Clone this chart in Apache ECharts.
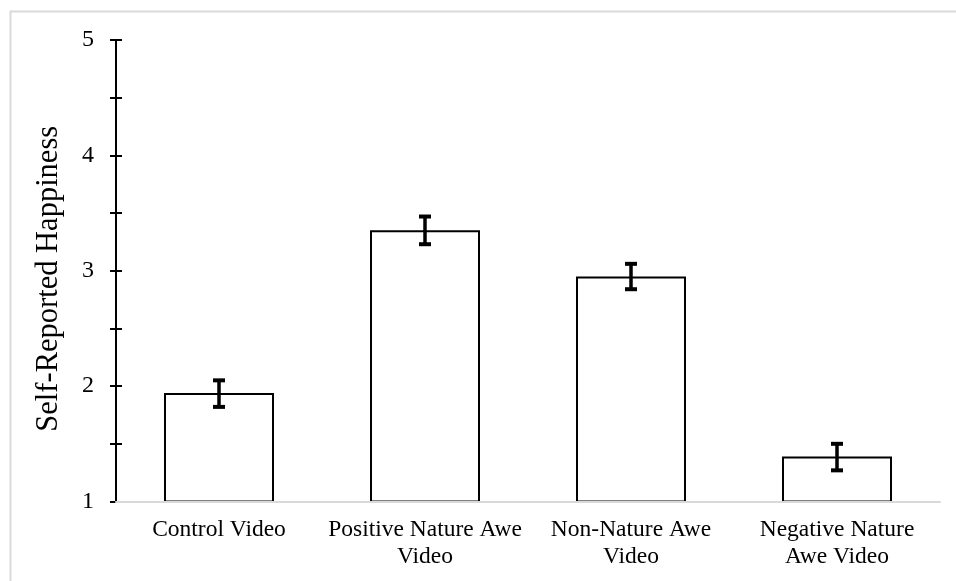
<!DOCTYPE html>
<html>
<head>
<meta charset="utf-8">
<script src="https://cdn.jsdelivr.net/npm/echarts@6/dist/echarts.min.js"></script>
<style>html,body{margin:0;padding:0;background:#fff;}#c{width:956px;height:581px;}</style>
</head>
<body>
<div id="c"></div>
<script>
const categories = ['Control Video', 'Positive Nature Awe Video', 'Non-Nature Awe Video', 'Negative Nature Awe Video'];
const categoryLabels = ['Control Video', 'Positive Nature Awe\nVideo', 'Non-Nature Awe\nVideo', 'Negative Nature\nAwe Video'];
const means = [1.94, 3.35, 2.95, 1.39];
const errLow = [1.82, 3.23, 2.84, 1.27];
const errHigh = [2.05, 3.47, 3.06, 1.50];
const yTicks = [1, 2, 3, 4, 5];
const yName = 'Self-Reported Happiness';

const serif = '"Liberation Serif", "Times New Roman", serif';
const chart = echarts.init(document.getElementById('c'));
chart.setOption({
  animation: false,
  backgroundColor: '#fff',
  graphic: [{
    type: 'rect', left: 8, top: 9, z: 0,
    shape: { width: 1000, height: 700 },
    style: { fill: 'none', stroke: '#d9d9d9', lineWidth: 2 }
  }],
  grid: { left: 116, right: 16, top: 40, bottom: 79.5 },
  xAxis: {
    type: 'category',
    data: categories,
    axisLine: { lineStyle: { color: '#d9d9d9', width: 2 } },
    axisTick: { show: false },
    axisLabel: {
      interval: 0, margin: 15, color: '#000',
      fontFamily: serif, fontSize: 23.5, lineHeight: 27,
      formatter: (v, i) => categoryLabels[i]
    },
    z: 3
  },
  yAxis: [{
    type: 'value', min: yTicks[0], max: yTicks[yTicks.length - 1], interval: 0.5,
    name: yName, nameLocation: 'middle', nameGap: 52,
    nameTextStyle: { fontFamily: serif, fontSize: 30.5, color: '#000', padding: [0, 16, 0, 0] },
    axisLine: { show: true, lineStyle: { color: '#000', width: 2 } },
    axisTick: { show: true, length: 6, lineStyle: { color: '#000', width: 2 } },
    axisLabel: {
      margin: 22, color: '#000', fontFamily: serif, fontSize: 24,
      formatter: v => (yTicks.indexOf(v) >= 0 ? String(v) : '')
    },
    splitLine: { show: false }
  }, {
    type: 'value', min: yTicks[0], max: yTicks[yTicks.length - 1], interval: 0.5,
    position: 'left',
    axisLine: { show: false },
    axisTick: { show: true, inside: true, length: 6, lineStyle: { color: '#000', width: 2 } },
    axisLabel: { show: false },
    splitLine: { show: false }
  }],
  series: [{
    type: 'bar',
    data: means,
    barWidth: 110,
    itemStyle: { color: '#fff', borderColor: '#000', borderWidth: 2 },
    z: 2
  }, {
    type: 'custom',
    data: categories.map((c, i) => [i, errLow[i], errHigh[i]]),
    renderItem: function (params, api) {
      const x = api.value(0);
      const lo = api.coord([x, api.value(1)]);
      const hi = api.coord([x, api.value(2)]);
      const hw = 6;
      const st = { stroke: '#000', lineWidth: 3.5, fill: 'none' };
      const cap = { stroke: '#000', lineWidth: 4, fill: 'none' };
      return {
        type: 'group',
        children: [
          { type: 'line', shape: { x1: lo[0], y1: lo[1], x2: hi[0], y2: hi[1] }, style: st },
          { type: 'line', shape: { x1: lo[0] - hw, y1: lo[1], x2: lo[0] + hw, y2: lo[1] }, style: cap },
          { type: 'line', shape: { x1: hi[0] - hw, y1: hi[1], x2: hi[0] + hw, y2: hi[1] }, style: cap }
        ]
      };
    },
    z: 5
  }]
});
</script>
</body>
</html>
